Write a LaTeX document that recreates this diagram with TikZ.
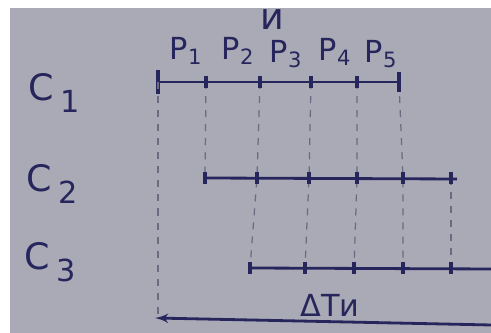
\documentclass[tikz,border=0pt]{standalone}
\usepackage{fontspec}
\setmainfont{DejaVu Sans}
\usetikzlibrary{arrows}
\usetikzlibrary{positioning}
\definecolor{paper}{RGB}{170,169,182}
\definecolor{ink}{RGB}{38,38,92}
\definecolor{pencil}{RGB}{108,105,128}

\begin{document}
\begin{tikzpicture}[x=0.02cm, y=-0.02cm,
			timeline/.style={draw=ink, line width=1.6pt},
			tick/.style={draw=ink, line width=2pt},
			guide/.style={draw=pencil, line width=0.7pt, dash pattern=on 4pt off 4pt},
			label/.style={text=ink, font=\LARGE, inner sep=0pt}]
			\useasboundingbox (0,0) rectangle (491,333);
			\fill[white] (0,0) rectangle (491,333);
			\fill[paper] (10,8) rectangle (491,333);
			
			% labels
			\node[label, font=\huge] (m) at (272,20) {и};
			\node[label] (p1) at (186,51) {P\textsubscript{1}};
			\node[label] (p2) at (238,51) {P\textsubscript{2}};
			\node[label] (p3) at (286,54) {P\textsubscript{3}};
			\node[label] (p4) at (335,52) {P\textsubscript{4}};
			\node[label] (p5) at (381,54) {P\textsubscript{5}};
			\node[label, font=\huge] (c1) at (54,93) {C\,\raisebox{-0.6ex}{\LARGE 1}};
			\node[label, font=\huge] (c2) at (52,184) {C\,\raisebox{-0.6ex}{\LARGE 2}};
			\node[label, font=\huge] (c3) at (50,262) {C\,\raisebox{-0.6ex}{\LARGE 3}};
			
			% ticks of the three rows
			\foreach \i/\x in {0/158,1/206,2/260,3/311,4/357,5/399}
				\coordinate (a\i) at (\x,82);
			\foreach \i/\x in {0/205,1/257,2/309,3/357,4/403,5/451}
				\coordinate (b\i) at (\x,178);
			\foreach \i/\x in {0/250,1/305,2/354,3/403,4/451}
				\coordinate (d\i) at (\x,268);
			\coordinate (bend) at (457,179);
			\coordinate (dend) at (491,269);
			
			% dashed guides
			\draw[guide] (a1) -- (b0);
			\draw[guide] (a2) -- (b1) -- (d0);
			\draw[guide] (a3) -- (b2) -- (d1);
			\draw[guide] (a4) -- (b3) -- (d2);
			\draw[guide] (a5) -- (b4) -- (d3);
			\draw[guide] (b5) -- (d4);
			
			\draw[timeline] (a0) -- (a5);
			\draw[timeline] (b0) -- (bend);
			\draw[timeline] (d0) -- (dend);
			\draw[tick] (a0) ++(0,-12) -- ++(0,24);
			\draw[tick] (a5) ++(0,-10) -- ++(0,20);
			\foreach \i in {1,...,4}
				\draw[tick] (a\i) ++(0,-6) -- ++(0,12);
			\foreach \i in {0,...,5}
				\draw[tick] (b\i) ++(0,-6) -- ++(0,12);
			\foreach \i in {0,...,4}
				\draw[tick] (d\i) ++(0,-6) -- ++(0,12);
			
			% time span
			\coordinate (tl) at (155,318);
			\coordinate (tr) at (491,325);
			\draw[guide] (a0) -- (a0 |- tl);
			\draw[timeline, <-, >=latex'] (tl) -- (tr);
			\node[label] (dt) at (330,305) {ΔTи};
		\end{tikzpicture}
\end{document}
